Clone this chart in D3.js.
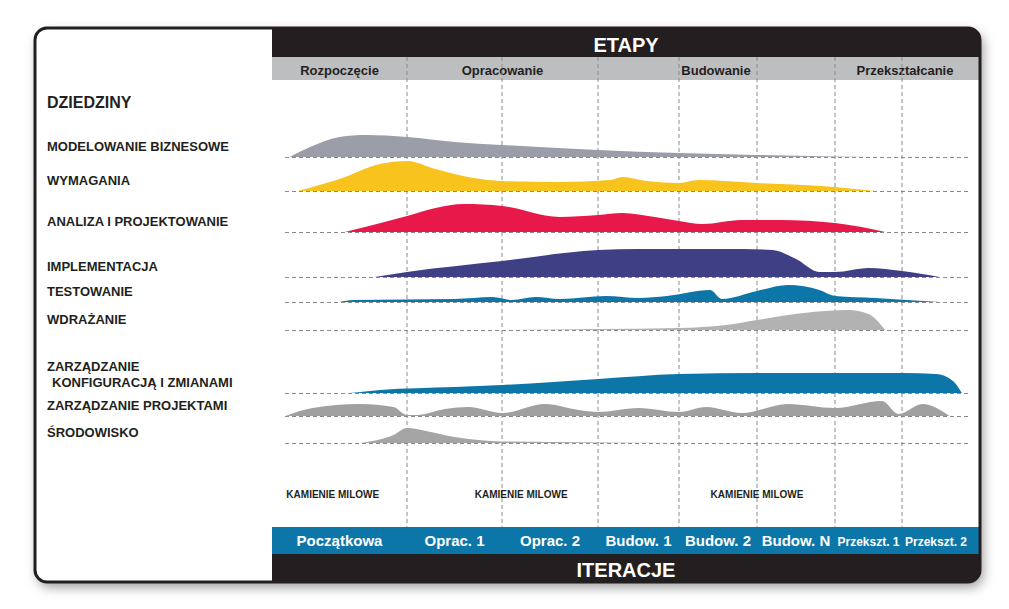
<!DOCTYPE html>
<html><head><meta charset="utf-8">
<script src="https://cdn.jsdelivr.net/npm/d3@7"></script>
<style>
body{margin:0;background:#fff;}
text{font-family:"Liberation Sans",Arial,sans-serif;font-weight:bold;}
</style></head>
<body><svg id="c" width="1009" height="609"></svg>
<script>
var phases = ["Rozpoczęcie", "Opracowanie", "Budowanie", "Przekształcanie"];
var phaseSpan = [[0, 1], [1, 3], [3, 6], [6, 8]];
var iterations = ["Początkowa", "Oprac. 1", "Oprac. 2", "Budow. 1", "Budow. 2", "Budow. N", "Przekszt. 1", "Przekszt. 2"];
var milestones = [[0.45, "KAMIENIE MILOWE"], [2.2, "KAMIENIE MILOWE"], [5.0, "KAMIENIE MILOWE"]];

var disciplines = ["MODELOWANIE BIZNESOWE", "WYMAGANIA", "ANALIZA I PROJEKTOWANIE", "IMPLEMENTACJA", "TESTOWANIE", "WDRAŻANIE", "ZARZĄDZANIE\nKONFIGURACJĄ I ZMIANAMI", "ZARZĄDZANIE PROJEKTAMI", "ŚRODOWISKO"];
var baselines = [157, 191, 232, 277, 302, 330, 393, 416, 443];
var colors = ["#9b9ea9", "#f9c31d", "#e8184b", "#3e3f84", "#0c76a8", "#b2b2b2", "#0c76a8", "#a0a0a0", "#a5a5a5"];

// [iteration position, height]
var modelowanie = [[0.13,0],[0.3,11],[0.5,20],[0.7,22],[1,20],[1.5,15],[2,12],[3,7],[4,4],[5,2],[6,0.6],[6.6,0]];
var wymagania = [[0.19,0],[0.5,12],[0.8,27],[1,30],[1.3,22],[1.7,13],[2,10],[2.6,9],[3.15,11],[3.3,14],[3.6,10],[4,8],[4.25,11],[4.6,10],[5,8],[6,4],[6.6,0]];
var analiza = [[0.54,0],[1,16],[1.3,24],[1.6,28],[2,26],[2.6,15],[3,17],[3.3,19],[3.7,15],[4,11],[4.3,8],[4.8,12],[5.3,12],[6,9],[6.75,0]];
var implementacja = [[0.76,0],[1,5],[2,16],[3,27],[3.5,28],[4,28],[4.8,28],[5.2,27],[5.5,18],[5.8,5],[6,5],[6.5,9],[7,6],[7.55,0]];
var testowanie = [[0.5,0],[0.6,2],[1.5,3],[1.9,5],[2.1,2],[2.35,5],[2.6,3],[3.1,6],[3.5,4],[3.85,6],[4.4,12],[4.55,3],[5,11],[5.4,17],[5.8,12],[6,6],[6.6,4],[7.55,0]];
var wdrazanie = [[2,0],[3,1],[4,2],[4.6,5],[5,10],[5.6,17],[6.2,20],[6.5,16],[6.75,0]];
var konfiguracja = [[0.58,0],[0.8,3],[1.5,6],[2,8],[3,14],[4,19],[5,20],[6,20],[7,20],[7.5,19],[7.75,12],[7.88,0]];
var projekty = [[0.1,0],[0.3,8],[0.65,12],[0.9,9],[1,1],[1.1,1],[1.4,7],[1.65,9],[2,3],[2.45,12],[2.8,6],[3,4],[3.5,8],[4,4],[4.35,9],[4.8,3],[5.4,12],[6,8],[6.7,15],[6.95,2],[7.3,12],[7.7,0]];
var srodowisko = [[0.65,0],[0.9,8],[1,15],[1.2,12],[1.5,6],[2,1.5],[3,0.5],[4,0]];
var series = [modelowanie, wymagania, analiza, implementacja, testowanie, wdrazanie, konfiguracja, projekty, srodowisko];

var svg = d3.select("#c");
var frameL = 35, frameR = 980, frameT = 28, frameB = 582, panelX = 272;

var defs = svg.append("defs");
defs.append("clipPath").attr("id", "frame").append("rect")
  .attr("x", frameL).attr("y", frameT).attr("width", frameR - frameL).attr("height", frameB - frameT).attr("rx", 12);
var f = defs.append("filter").attr("id", "sh").attr("x", "-5%").attr("y", "-5%").attr("width", "110%").attr("height", "110%");
f.append("feGaussianBlur").attr("stdDeviation", 6);

svg.append("rect").attr("x", frameL + 3).attr("y", frameT + 5).attr("width", frameR - frameL).attr("height", frameB - frameT)
  .attr("rx", 12).attr("fill", "#999").attr("filter", "url(#sh)");
svg.append("rect").attr("x", frameL).attr("y", frameT).attr("width", frameR - frameL).attr("height", frameB - frameT)
  .attr("rx", 12).attr("fill", "#fff");

var g = svg.append("g").attr("clip-path", "url(#frame)");

var x = d3.scaleLinear().domain([0, 1, 2, 3, 4, 5, 6, 7, 8])
  .range([272, 407, 502, 598, 679, 757, 835, 902, 970]);
var h = d3.scaleLinear().domain([0, 30]).range([0, 30]);

// header bars
g.append("rect").attr("x", panelX).attr("y", frameT).attr("width", frameR - panelX).attr("height", 29).attr("fill", "#231f20");
g.append("text").attr("x", (panelX + frameR) / 2).attr("y", 52).attr("text-anchor", "middle")
  .attr("fill", "#fff").attr("font-size", 20).text("ETAPY");
g.append("rect").attr("x", panelX).attr("y", 57).attr("width", frameR - panelX).attr("height", 23).attr("fill", "#bcbec0");
g.selectAll(".ph").data(phases).enter().append("text")
  .attr("x", (d, i) => i == 3 ? 905 : i == 2 ? 716 : (x(phaseSpan[i][0]) + x(phaseSpan[i][1])) / 2)
  .attr("y", 75).attr("text-anchor", "middle").attr("font-size", 13).attr("fill", "#231f20").text(d => d);

// footer bars
g.append("rect").attr("x", panelX).attr("y", 527).attr("width", frameR - panelX).attr("height", 27).attr("fill", "#0c76a8");
g.append("rect").attr("x", panelX).attr("y", 554).attr("width", frameR - panelX).attr("height", 30).attr("fill", "#231f20");
g.append("text").attr("x", (panelX + frameR) / 2).attr("y", 577).attr("text-anchor", "middle")
  .attr("fill", "#fff").attr("font-size", 20).text("ITERACJE");
g.selectAll(".it").data(iterations).enter().append("text")
  .attr("x", (d, i) => (x(i) + x(i + 1)) / 2).attr("y", 546).attr("text-anchor", "middle")
  .attr("fill", "#fff").attr("font-size", (d, i) => i >= 6 ? 12 : 15)
  .attr("textLength", (d, i) => i >= 6 ? 62 : null)
  .attr("lengthAdjust", "spacingAndGlyphs")
  .text(d => d);

// vertical dashed lines
g.selectAll(".vl").data(d3.range(1, 8)).enter().append("line")
  .attr("x1", d => x(d)).attr("x2", d => x(d)).attr("y1", 57).attr("y2", 527)
  .attr("stroke", "#8a8a8a").attr("stroke-dasharray", "4,3").attr("stroke-width", 1);

// humps
var area = d3.area().curve(d3.curveMonotoneX).x(d => x(d[0]));
series.forEach(function(s, i) {
  area.y0(baselines[i]).y1(d => baselines[i] - h(d[1]));
  g.append("path").datum(s).attr("d", area).attr("fill", colors[i]);
});

// horizontal dashed baselines
g.selectAll(".hl").data(baselines).enter().append("line")
  .attr("x1", 285).attr("x2", 970).attr("y1", d => d + 0.5).attr("y2", d => d + 0.5)
  .attr("stroke", "#8a8a8a").attr("stroke-dasharray", "4,3");

// labels
g.append("text").attr("x", 47).attr("y", 108).attr("font-size", 16).attr("fill", "#231f20").text("DZIEDZINY");
disciplines.forEach(function(d, i) {
  var lines = d.split("\n");
  lines.forEach(function(l, j) {
    g.append("text").attr("x", l.startsWith("KONF") ? 52 : 47)
      .attr("y", baselines[i] - 6 - (lines.length - 1 - j) * 16)
      .attr("font-size", 13).attr("fill", "#231f20").text(l);
  });
});

g.selectAll(".ms").data(milestones).enter().append("text")
  .attr("x", d => x(d[0])).attr("y", 498).attr("text-anchor", "middle")
  .attr("font-size", 10).attr("fill", "#231f20").text(d => d[1]);

svg.append("rect").attr("x", frameL).attr("y", frameT).attr("width", frameR - frameL).attr("height", frameB - frameT)
  .attr("rx", 12).attr("fill", "none").attr("stroke", "#231f20").attr("stroke-width", 3);
</script></body></html>
